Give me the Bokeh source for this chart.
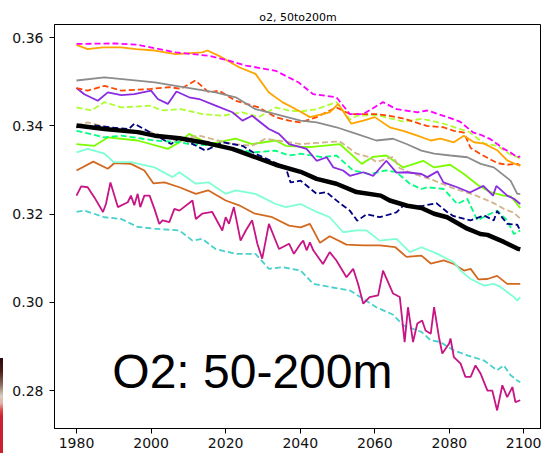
from bokeh.plotting import figure
from bokeh.layouts import row
from bokeh.models import Range1d, Label, FixedTicker, Div
from bokeh.embed import file_html
from bokeh.resources import INLINE

# ---------------- data (year, O2 value) ----------------
x_ticks = [1980, 2000, 2020, 2040, 2060, 2080, 2100]
y_ticks = [0.28, 0.30, 0.32, 0.34, 0.36]
y_tick_labels = ["0.28", "0.30", "0.32", "0.34", "0.36"]

magenta = [(1980, .3586), (1990.2, .3587), (1996.4, .3584), (2006.6, .3567), (2015.5, .3559),
           (2020.9, .3548), (2025.4, .3537), (2033.4, .3525), (2039.5, .3499), (2043.5, .3472),
           (2049.7, .3465), (2053.3, .3427), (2056.9, .3427), (2062.2, .3454), (2065.8, .3438),
           (2071.4, .3431), (2074.1, .3435), (2078.4, .3423), (2082.8, .3410), (2086.4, .3385),
           (2088.4, .3380), (2091.0, .3370), (2092.8, .3359), (2094.6, .3348), (2096.4, .3340),
           (2098.2, .3329), (2099, .3331)]

orange = [(1980, .3584), (1983, .3574), (1987, .3578), (1992, .3578), (1996, .3574), (2001, .3571),
          (2006.6, .3563), (2013.7, .3567), (2015.1, .3571), (2018.2, .3559), (2023.6, .3533),
          (2028.0, .3518), (2031.6, .3476), (2035.2, .3454), (2039.5, .3435), (2042.6, .3420),
          (2047.9, .3431), (2050.2, .3450), (2053.7, .3405), (2056.9, .3412), (2060.0, .3420),
          (2064.0, .3397), (2067.6, .3389), (2071.4, .3378), (2075.0, .3367), (2077.6, .3371),
          (2081.2, .3363), (2083.9, .3378), (2086.6, .3363), (2089.3, .3360), (2092.8, .3345),
          (2095.5, .3322), (2098.2, .3312), (2099, .3310)]

gray = [(1980, .3503), (1987.5, .3510), (1995, .3504), (2001, .3499), (2006.6, .3491), (2017.3, .3476),
        (2022.7, .3465), (2028.0, .3438), (2033.4, .3427), (2040.1, .3412), (2044.4, .3408),
        (2049.7, .3397), (2055.1, .3382), (2060.4, .3367), (2064.9, .3371), (2068.5, .3359),
        (2072.5, .3344), (2075.9, .3337), (2080.3, .3333), (2084.8, .3329), (2088.4, .3314),
        (2091.9, .3306), (2096.4, .3276), (2098.2, .3246), (2099, .3246)]

orangered = [(1980, .3486), (1983, .3480), (1987.5, .3491), (1992, .3480), (2000, .3484), (2005, .3488),
             (2008, .3484), (2011.9, .3503), (2015.5, .3476), (2018.2, .3480), (2022.7, .3457),
             (2028.9, .3442), (2033.4, .3420), (2037, .3412), (2040.1, .3408), (2044.4, .3420),
             (2049.7, .3442), (2053.3, .3427), (2060.4, .3427), (2064, .3423), (2068, .3416),
             (2073.9, .3400), (2078.4, .3397), (2081.2, .3389), (2083.9, .3385), (2085.7, .3350),
             (2088.4, .3336), (2092.8, .3316), (2095.5, .3312), (2098.2, .3314), (2099, .3310)]

blueviolet = [(1980, .3486), (1982.1, .3472), (1985.7, .3457), (1988.4, .3476), (1992, .3470),
              (1995.5, .3472), (2000, .3480), (2001.8, .3461), (2004.5, .3450), (2006.8, .3478),
              (2010.2, .3465), (2012.9, .3461), (2017.3, .3446), (2021.8, .3431), (2024.5, .3412),
              (2027.1, .3423), (2031.6, .3393), (2034.3, .3382), (2037, .3359), (2040.1, .3352),
              (2041.7, .3348), (2044.4, .3321), (2047.1, .3329), (2048.9, .3306), (2051.5, .3299),
              (2053.3, .3287), (2056.9, .3295), (2059.6, .3287), (2063.1, .3321), (2065.8, .3294),
              (2068.5, .3295), (2072.5, .3291), (2074.1, .3284), (2076.8, .3297), (2078.4, .3272),
              (2082.1, .3261), (2085.5, .3249), (2089.1, .3264), (2091.7, .3242), (2092.6, .3264),
              (2095.5, .3242), (2097.3, .3235), (2099, .3223)]

greenyellow = [(1980, .3442), (1984, .3435), (1987.5, .3454), (1992, .3442), (2000, .3446),
               (2002.7, .3435), (2008, .3438), (2013.7, .3427), (2019.1, .3423), (2024.5, .3431),
               (2028.9, .3420), (2033.4, .3442), (2037, .3435), (2040.1, .3433), (2044.4, .3438),
               (2049.7, .3454), (2053.3, .3415), (2055.1, .3423), (2060.4, .3425), (2067.6, .3410),
               (2072.5, .3416), (2075, .3412), (2078.5, .3405), (2082.1, .3395), (2085.4, .3386),
               (2089.3, .3360), (2092.8, .3355), (2096.4, .3335), (2098.2, .3330), (2099, .3325)]

navy = [(1980, .3397), (1985, .3401), (1990, .3396), (1994, .3393), (1995.5, .3405), (1999, .3389),
        (2005.4, .3359), (2007.6, .3374), (2014.6, .3344), (2019.1, .3363), (2024.5, .3355),
        (2028, .3337), (2036.1, .3306), (2037.4, .3272), (2040.1, .3276), (2044.4, .3246),
        (2047, .3250), (2050.6, .3225), (2053.3, .3208), (2055.3, .3185), (2057.8, .3200),
        (2061.3, .3193), (2065.8, .3204), (2067.6, .3219), (2072.5, .3218), (2076.5, .3225),
        (2079.4, .3205), (2081, .3196), (2085.7, .3186), (2089.3, .3197), (2091.9, .3186),
        (2092.8, .3207), (2095.5, .3178), (2098.2, .3176), (2099, .3163)]

tan = [(1980, .3401), (1983, .3408), (1990, .3393), (2000, .3386), (2006.6, .3367), (2012.9, .3378),
       (2021.8, .3359), (2027.1, .3355), (2030.7, .3371), (2040.1, .3359), (2050.6, .3365),
       (2055.1, .3337), (2058.6, .3329), (2060.4, .3318), (2064.9, .3330), (2066.7, .3304),
       (2070.5, .3291), (2074.7, .3280), (2081, .3259), (2087.2, .3242), (2091.9, .3225),
       (2094.6, .3212), (2097.3, .3203), (2099, .3190)]

springgreen = [(1980, .3389), (1987.5, .3374), (1992, .3378), (2001, .3367), (2007.6, .3363),
               (2010.2, .3359), (2017.3, .3355), (2022.7, .3348), (2027.1, .3340), (2033.4, .3344),
               (2037, .3333), (2040.1, .3337), (2046.1, .3329), (2049.7, .3333), (2054.2, .3299),
               (2058.6, .3291), (2063.1, .3299), (2065.8, .3295), (2069.4, .3269), (2072.5, .3257),
               (2074.1, .3261), (2078.5, .3257), (2082.1, .3223), (2084.8, .3235), (2087.5, .3186),
               (2091.0, .3201), (2092.8, .3208), (2095.5, .3186), (2097.3, .3155), (2099, .3163)]

lawngreen = [(1980, .3359), (1984.8, .3355), (1988.4, .3374), (1996.4, .3367), (2004.5, .3348),
             (2007.6, .3363), (2010.2, .3382), (2015.5, .3359), (2022.7, .3371), (2027.1, .3359),
             (2033.4, .3367), (2036.1, .3355), (2040.1, .3353), (2042.6, .3352), (2050.6, .3359),
             (2056.5, .3314), (2059.5, .3330), (2063.1, .3333), (2067.6, .3306), (2073, .3321),
             (2075.9, .3306), (2080.2, .3312), (2083.9, .3291), (2087.8, .3265), (2091.0, .3250),
             (2094.6, .3242), (2096.5, .3240), (2099, .3214)]

aquamarine = [(1980, .3340), (1983, .3348), (1987.5, .3337), (1990, .3318), (1994.6, .3318),
              (2000.9, .3306), (2005.8, .3284), (2007.6, .3295), (2012, .3269), (2015.5, .3272),
              (2020, .3246), (2022.7, .3254), (2028, .3246), (2033.4, .3223), (2036.1, .3216),
              (2040.1, .3223), (2044.4, .3205), (2047.9, .3193), (2051.5, .3159), (2055.1, .3163),
              (2057.8, .3163), (2061.3, .3140), (2065.8, .3144), (2069.4, .3114), (2072.5, .3125),
              (2076.8, .3110), (2081.2, .3091), (2083, .3072), (2085.7, .3053), (2089.3, .3038),
              (2091.9, .3042), (2093.7, .3035), (2097.3, .3012), (2098.2, .3004), (2099, .3012)]

chocolate = [(1980, .3299), (1984.5, .3319), (1988.4, .3303), (1990.2, .3316), (1994.6, .3314),
             (1998.2, .3299), (2000.6, .3270), (2003.6, .3272), (2007.6, .3261), (2012, .3246),
             (2015.3, .3254), (2020, .3231), (2023.6, .3220), (2027.6, .3202), (2032.5, .3193),
             (2037, .3174), (2040.1, .3170), (2042.6, .3178), (2045.3, .3135), (2047.9, .3150),
             (2052.4, .3131), (2056.9, .3129), (2061.3, .3129), (2065.5, .3125), (2068.5, .3103),
             (2072.5, .3106), (2075, .3088), (2078.5, .3095), (2081.2, .3087), (2083.9, .3072),
             (2085.7, .3076), (2087.8, .3052), (2090.2, .3053), (2092.8, .3060), (2095.5, .3042),
             (2099, .3042)]

mediumvioletred = [(1980, .3242), (1981.25, .3263), (1983, .3261), (1984.8, .3238), (1987.1, .3205),
                   (1987.9, .3223), (1989.1, .3272), (1991.1, .3216), (1993.75, .3227), (1994.6, .3242),
                   (1995.5, .3220), (1996.4, .3246), (1997.1, .3216), (1998.2, .3242), (1999.6, .3242),
                   (2000.9, .3212), (2002.2, .3178), (2003.1, .3186), (2004.9, .3182), (2006.25, .3212),
                   (2007.6, .3208), (2011.1, .3231), (2012, .3189), (2013.7, .3201), (2016.4, .3205),
                   (2019.1, .3163), (2020, .3193), (2020.9, .3178), (2022.2, .3216), (2024, .3140),
                   (2025.4, .3163), (2027.1, .3186), (2028.5, .3133), (2029.8, .3099), (2031.6, .3178),
                   (2034.3, .3121), (2037, .3133), (2038.3, .3110), (2040.1, .3133), (2040.8, .3140),
                   (2041.7, .3118), (2042.6, .3136), (2043.5, .3118), (2046.1, .3087), (2047.9, .3114),
                   (2049.7, .3095), (2052.4, .3057), (2054.2, .3076), (2055.5, .3042), (2056.9, .2997),
                   (2058.6, .3012), (2060.9, .3016), (2062.2, .3072), (2064.9, .3020), (2066.7, .3012),
                   (2068, .2910), (2068.9, .2989), (2070.25, .2910), (2071.4, .2952), (2072.7, .2959),
                   (2073.6, .2936), (2075, .2929), (2075.9, .2989), (2077.2, .2921), (2078.1, .2884),
                   (2079.9, .2906), (2080.3, .2918), (2081.2, .2876), (2083, .2861), (2084.3, .2831),
                   (2085.7, .2831), (2087, .2857), (2088.4, .2838), (2090.2, .2800), (2091.5, .2800),
                   (2092.8, .2755), (2094.2, .2812), (2095.5, .2785), (2096.9, .2808), (2097.7, .2774),
                   (2099, .2778)]

turquoise = [(1980, .3205), (1982.1, .3208), (1987.5, .3193), (1992, .3189), (1996.4, .3171),
             (2000.9, .3167), (2007.6, .3163), (2011.1, .3140), (2013.7, .3144), (2017.3, .3121),
             (2022.7, .3110), (2028, .3110), (2031.6, .3076), (2035.2, .3080), (2040.1, .3072),
             (2043.5, .3042), (2047.9, .3035), (2053.3, .3027), (2056.9, .3008), (2060.4, .2989),
             (2064.9, .2972), (2067.6, .2948), (2072.5, .2933), (2075, .2914), (2077.6, .2910),
             (2081.2, .2891), (2084.8, .2880), (2089.3, .2868), (2092.8, .2846), (2094.6, .2857),
             (2096.4, .2835), (2098.2, .2823), (2099, .2819)]

black_mean = [(1980, .3401), (1987.5, .3393), (1996.4, .3386), (2001, .3378), (2007.6, .3372),
              (2015.5, .3360), (2021.8, .3348), (2027.7, .3330), (2033.4, .3312), (2040.1, .3296),
              (2044.4, .3280), (2049.7, .3269), (2055.1, .3250), (2061.6, .3242), (2064, .3231),
              (2068.7, .3219), (2072.5, .3214), (2075.9, .3201), (2079.4, .3193), (2084.8, .3167),
              (2088.3, .3155), (2090.2, .3153), (2094.6, .3137), (2098.2, .3122), (2099, .3120)]

series = [
    (turquoise, "#48d1cc", True),
    (mediumvioletred, "#c71585", False),
    (chocolate, "#d2691e", False),
    (aquamarine, "#7fffd4", False),
    (lawngreen, "#7cfc00", False),
    (springgreen, "#00ff7f", True),
    (tan, "#d2b48c", True),
    (navy, "#000080", True),
    (greenyellow, "#adff2f", True),
    (blueviolet, "#8a2be2", False),
    (orangered, "#ff4500", True),
    (gray, "#8c8c8c", False),
    (orange, "#ffa500", False),
    (magenta, "#ff00ff", True),
]

X_LO, X_HI = 1974.1, 2104.7
Y_LO, Y_HI = 0.2714, 0.3630

# ---------------- main figure ----------------
p = figure(width=538, height=453, output_backend="svg", toolbar_location=None,
           x_range=Range1d(X_LO, X_HI), y_range=Range1d(Y_LO, Y_HI),
           min_border_left=51, min_border_right=0, min_border_top=24, min_border_bottom=25,
           title="o2, 50to200m")
p.background_fill_color = "white"
p.border_fill_color = "white"
p.outline_line_color = "black"
p.outline_line_width = 1
p.xgrid.visible = False
p.ygrid.visible = False

p.title.align = "center"
p.title.text_font = "DejaVu Sans"
p.title.text_font_size = "11px"
p.title.text_font_style = "normal"
p.title.text_color = "black"
p.title.standoff = 2

for ax in (p.xaxis[0], p.yaxis[0]):
    ax.axis_line_color = "black"
    ax.axis_line_width = 1
    ax.major_tick_line_color = "black"
    ax.major_tick_line_width = 1
    ax.major_tick_out = 5
    ax.major_tick_in = 0
    ax.minor_tick_line_color = None
    ax.major_label_text_font = "DejaVu Sans"
    ax.major_label_text_font_size = "14px"
    ax.major_label_text_font_style = "normal"
    ax.major_label_text_color = "#111111"
p.xaxis.major_label_standoff = 4
p.yaxis.major_label_standoff = 6

p.xaxis.ticker = FixedTicker(ticks=x_ticks)
p.yaxis.ticker = FixedTicker(ticks=y_ticks)
p.yaxis.major_label_overrides = {t: s for t, s in zip(y_ticks, y_tick_labels)}

for pts, color, dashed in series:
    xs = [a for a, b in pts]
    ys = [b for a, b in pts]
    p.line(xs, ys, line_color=color, line_width=1.8,
           line_dash="6 3" if dashed else "solid")

bx = [a for a, b in black_mean]
by = [b for a, b in black_mean]
p.line(bx, by, line_color="black", line_width=4.5)

p.add_layout(Label(x=1989.6, y=0.2844, text="O2: 50-200m", text_font="Liberation Sans",
                   text_font_size="48px", text_color="black", text_baseline="alphabetic",
                   text_align="left"))

# ---------------- thin strip at the far left (fragment of a neighbouring colour bar) ----------------
strip = Div(width=3, height=453, margin=0,
            text='<div style="position:absolute;left:0;top:358px;width:3px;height:95px;'
                 'background:linear-gradient(to bottom,#2a0808 0%,#4a1c18 14%,#8a6a60 28%,'
                 '#d8d0c0 40%,#e0b0a8 48%,#d84848 55%,#cc2030 62%,#cc2030 100%);"></div>')

layout = row(strip, p, spacing=0)
open("out.html", "w").write(file_html(layout, INLINE))
